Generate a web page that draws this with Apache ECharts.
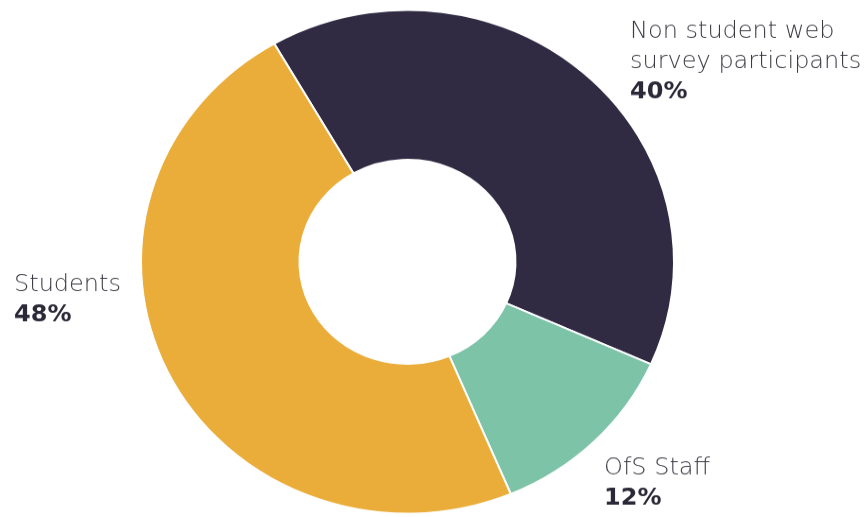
<!DOCTYPE html>
<html><head><meta charset="utf-8">
<script src="https://cdn.jsdelivr.net/npm/echarts@6/dist/echarts.min.js"></script>
<style>
html,body{margin:0;padding:0;background:#fff;overflow:hidden}
#wrap{width:867px;height:517px;overflow:hidden}
#c{width:867px;height:547px;transform:scaleY(0.945);transform-origin:0 0}
</style>
</head><body><div id="wrap"><div id="c"></div></div>
<script>
const categories = ['Non student web\nsurvey participants', 'OfS Staff', 'Students'];
const values = [40, 12, 48];
const colors = ['#302b43', '#7dc3a8', '#ebad3a'];
const labelPos = [[630, 18], [604, 480], [14, 286]];

const chart = echarts.init(document.getElementById('c'), null, {renderer: 'canvas'});
chart.setOption({
  animation: false,
  series: [{
    type: 'pie',
    center: [407.5, 277],
    radius: [108, 266.5],
    startAngle: 120,
    clockwise: true,
    avoidLabelOverlap: false,
    itemStyle: {borderColor: '#fff', borderWidth: 2},
    data: categories.map((c, i) => ({name: c, value: values[i], itemStyle: {color: colors[i]}})),
    label: {
      show: true,
      position: 'outside',
      overflow: 'none',
      width: 400,
      formatter: p => p.name.split('\n').map(s => '{n|' + s + '}').join('\n') + '\n{p|' + p.value + '%}',
      rich: {
        n: {fontFamily: 'DejaVu Sans', fontSize: 24, fontWeight: 300, color: '#3c3b44', lineHeight: 32},
        p: {fontFamily: 'DejaVu Sans', fontSize: 24, fontWeight: 'bold', color: '#2b2838', lineHeight: 32}
      }
    },
    labelLine: {show: false},
    labelLayout: p => ({x: labelPos[p.dataIndex][0], y: labelPos[p.dataIndex][1], align: 'left', verticalAlign: 'top'})
  }]
});
</script></body></html>
